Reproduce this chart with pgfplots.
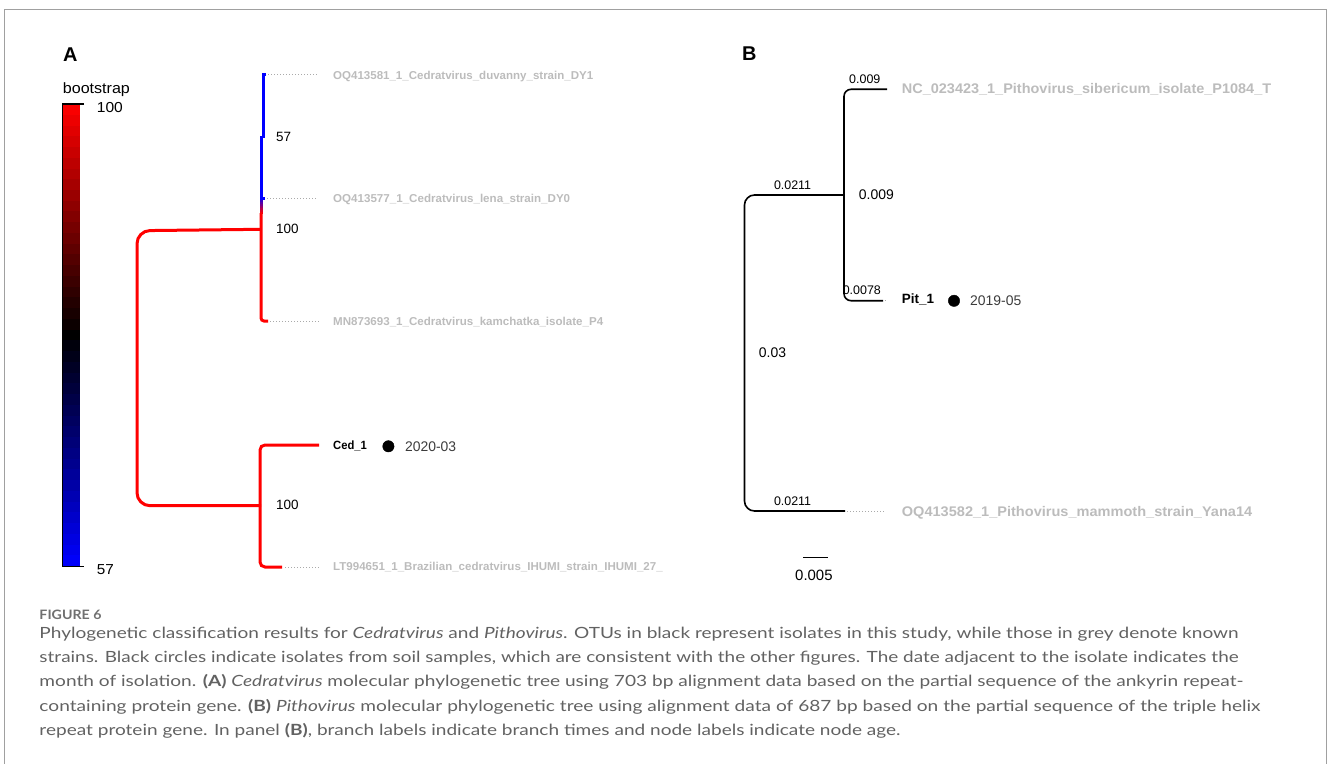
\documentclass[border=0pt]{standalone}
\usepackage{pgfplots}
\pgfplotsset{compat=1.18}
\usepackage{fontspec}
\usepackage{graphicx}
\setmainfont{Liberation Sans}
\newfontfamily\capfont{Lato}
\definecolor{leafgrey}{RGB}{188,188,188}
\definecolor{capgrey}{RGB}{98,98,98}
\definecolor{figgrey}{RGB}{112,112,112}
\definecolor{framegrey}{RGB}{160,160,160}
\definecolor{dotgrey}{RGB}{170,170,170}
\definecolor{datagrey}{RGB}{60,60,60}
\newcommand\fs[1]{\fontsize{#1}{#1}\selectfont}
\newcommand\fitw[2]{\resizebox{#1bp}{\height}{#2}}
\newcommand\lineone{Phylogenetic classification results for \textit{Cedratvirus} and \textit{Pithovirus}. OTUs in black represent isolates in this study, while those in grey denote known}
\newsavebox\caponebox
\newlength\caponew
\begin{document}
\sbox\caponebox{\capfont\fs{15.5}\lineone}%
\setlength\caponew{\wd\caponebox}%
\begin{tikzpicture}
\begin{axis}[
  x=1bp, y=1bp, y dir=reverse,
  xmin=0, xmax=1328, ymin=0, ymax=764,
  hide axis, clip=false,
  colormap={bsr}{rgb255=(0,0,255) rgb255=(0,0,0) rgb255=(255,0,0)},
  point meta min=57, point meta max=100,
]
% frame
\addplot[framegrey, line width=1.3bp] coordinates {(4.7,780) (4.7,9.3) (1326.7,9.3) (1326.7,780)};

% ---------------- Panel A ----------------
% colour bar
\addplot[mesh, point meta=explicit, line width=18bp, shader=flat] coordinates {
(71,566.5)[57] (71,555.3)[58] (71,544.5)[59] (71,533.8)[60] (71,523.0)[61] (71,512.3)[62]
(71,501.5)[63] (71,490.8)[64] (71,480.0)[65] (71,469.3)[66] (71,458.6)[67] (71,447.8)[68]
(71,437.1)[69] (71,426.3)[70] (71,415.6)[71] (71,404.8)[72] (71,394.1)[73] (71,383.3)[74]
(71,372.6)[75] (71,361.9)[76] (71,351.1)[77] (71,340.4)[78] (71,329.6)[79] (71,318.9)[80]
(71,308.1)[81] (71,297.4)[82] (71,286.6)[83] (71,275.9)[84] (71,265.2)[85] (71,254.4)[86]
(71,243.7)[87] (71,232.9)[88] (71,222.2)[89] (71,211.4)[90] (71,200.7)[91] (71,189.9)[92]
(71,179.2)[93] (71,168.5)[94] (71,157.7)[95] (71,147.0)[96] (71,136.2)[97] (71,125.5)[98]
(71,114.7)[99] (71,104.0)[100]};
\addplot[black, line width=1.2bp] coordinates {(84,104) (62.5,104) (62.5,566.5) (84,566.5)};

% tree A
\addplot[red, line width=3bp, rounded corners=13bp] coordinates {(261,229.3) (137,230.7) (137,505.7) (261,505.7)};
\addplot[red, line width=3bp, rounded corners=5bp] coordinates {(319,445) (260,445) (260,567) (282,567)};
\addplot[red, line width=3bp, rounded corners=3bp] coordinates {(261,213) (261,321) (268,321)};
\addplot[mesh, point meta=explicit, line width=3bp, shader=flat,
  colormap={br}{rgb255=(0,0,255) rgb255=(255,0,0)}] coordinates {
(261,196)[57] (261,198)[60] (261,200)[64] (261,202)[69] (261,204)[74] (261,206)[79] (261,208)[85] (261,210)[91] (261,212)[96] (261,214)[100]};
\addplot[blue, line width=3bp] coordinates {(266,75) (263,75) (263,137.5)};
\addplot[blue, line width=3bp] coordinates {(261.5,136) (261.5,198) (265,198)};
% leaders
\addplot[dotgrey, line width=1bp, dash pattern=on 1bp off 2bp] coordinates {(268,75) (318,75)};
\addplot[dotgrey, line width=1bp, dash pattern=on 1bp off 2bp] coordinates {(267,198) (318,198)};
\addplot[dotgrey, line width=1bp, dash pattern=on 1bp off 2bp] coordinates {(270,321) (320,321)};
\addplot[dotgrey, line width=1bp, dash pattern=on 1bp off 2bp] coordinates {(285,567) (320,567)};

% ---------------- Panel B ----------------
\addplot[black, line width=1.6bp, rounded corners=10bp] coordinates {(844,195) (744.5,195) (744.5,511) (845,511)};
\addplot[black, line width=1.6bp, rounded corners=7bp] coordinates {(887,89.3) (844,89.3) (844,300.7) (883,300.7)};
\addplot[dotgrey, line width=1bp, dash pattern=on 1bp off 2bp] coordinates {(847,511) (886,511)};
\addplot[dotgrey, line width=1bp, dash pattern=on 1bp off 2bp] coordinates {(884.5,300.7) (886,300.7)};
% scale bar
\addplot[black, line width=1.2bp] coordinates {(803,557.7) (828,557.7)};

% soil isolate markers
\addplot[only marks, mark=*, mark size=5.7bp, black] coordinates {(388.4,446.3) (954,300.8)};

% ---------------- texts ----------------
\begin{scope}[every node/.style={inner sep=0pt, anchor=base west}]
\node[font=\fs{20}\bfseries] at (axis cs:63,61.7) {A};
\node[font=\fs{20}\bfseries] at (axis cs:742,60.7) {B};
\node[font=\fs{15}] at (axis cs:62.7,94) {\fitw{67}{bootstrap}};
\node[font=\fs{14.5}] at (axis cs:96.7,112.7) {\fitw{26}{100}};
\node[font=\fs{14.5}] at (axis cs:96.7,574.3) {\fitw{17}{57}};

\node[font=\fs{11.5}\bfseries, text=leafgrey] at (axis cs:333,79.1) {\fitw{260}{OQ413581\_1\_Cedratvirus\_duvanny\_strain\_DY1}};
\node[font=\fs{11.5}\bfseries, text=leafgrey] at (axis cs:333,202.1) {\fitw{237}{OQ413577\_1\_Cedratvirus\_lena\_strain\_DY0}};
\node[font=\fs{11.5}\bfseries, text=leafgrey] at (axis cs:333,325.1) {\fitw{270}{MN873693\_1\_Cedratvirus\_kamchatka\_isolate\_P4}};
\node[font=\fs{11.5}\bfseries, text=leafgrey] at (axis cs:333,570.8) {\fitw{329.5}{LT994651\_1\_Brazilian\_cedratvirus\_IHUMI\_strain\_IHUMI\_27\_}};
\node[font=\fs{12}\bfseries] at (axis cs:333,449.3) {\fitw{33.7}{Ced\_1}};
\node[font=\fs{14}, text=datagrey] at (axis cs:405,451) {\fitw{51}{2020-03}};
\node[font=\fs{13.5}] at (axis cs:276,141.8) {57};
\node[font=\fs{13.5}] at (axis cs:276,233.8) {100};
\node[font=\fs{13.5}] at (axis cs:276,509.8) {100};

\node[font=\fs{12.5}] at (axis cs:849,83.6) {0.009};
\node[font=\fs{12.5}] at (axis cs:773.8,189) {0.0211};
\node[font=\fs{14}] at (axis cs:858.7,199) {0.009};
\node[font=\fs{12.5}] at (axis cs:842.6,294.3) {0.0078};
\node[font=\fs{14}] at (axis cs:758.7,357.7) {0.03};
\node[font=\fs{12.5}] at (axis cs:773.8,505.3) {0.0211};
\node[font=\fs{14}\bfseries, text=leafgrey] at (axis cs:901.7,93.3) {\fitw{369.3}{NC\_023423\_1\_Pithovirus\_sibericum\_isolate\_P1084\_T}};
\node[font=\fs{14}\bfseries, text=leafgrey] at (axis cs:901.7,516) {\fitw{350.3}{OQ413582\_1\_Pithovirus\_mammoth\_strain\_Yana14}};
\node[font=\fs{13.5}\bfseries] at (axis cs:901.7,303.8) {Pit\_1};
\node[font=\fs{14}, text=datagrey] at (axis cs:970,305) {2019-05};
\node[font=\fs{15}] at (axis cs:795,580.5) {0.005};

% caption
\node[text=figgrey] at (axis cs:39.3,619) {\fitw{62}{\capfont\fs{13}\bfseries FIGURE 6}};
\node[text=capgrey] at (axis cs:39.3,638) {\fitw{1199}{\capfont\fs{15.5}\lineone}};
\node[text=capgrey] at (axis cs:39.3,662.4) {\fitw{1199}{\capfont\fs{15.5}strains. Black circles indicate isolates from soil samples, which are consistent with the other figures. The date adjacent to the isolate indicates the}};
\node[text=capgrey] at (axis cs:39.3,686.8) {\fitw{1204}{\capfont\fs{15.5}month of isolation. \textbf{(A)} \textit{Cedratvirus} molecular phylogenetic tree using 703 bp alignment data based on the partial sequence of the ankyrin repeat-}};
\node[text=capgrey] at (axis cs:39.3,711.2) {\fitw{1221}{\capfont\fs{15.5}containing protein gene. \textbf{(B)} \textit{Pithovirus} molecular phylogenetic tree using alignment data of 687 bp based on the partial sequence of the triple helix}};
\node[text=capgrey] at (axis cs:39.3,735.6) {\scalebox{\fpeval{1199bp/\caponew}}[1]{\capfont\fs{15.5}repeat protein gene. In panel \textbf{(B)}, branch labels indicate branch times and node labels indicate node age.}};
\end{scope}

\coordinate (BL) at (axis cs:0,764);
\coordinate (TR) at (axis cs:1328,0);
\end{axis}
\pgfresetboundingbox
\path (BL) rectangle (TR);
\end{tikzpicture}
\end{document}
